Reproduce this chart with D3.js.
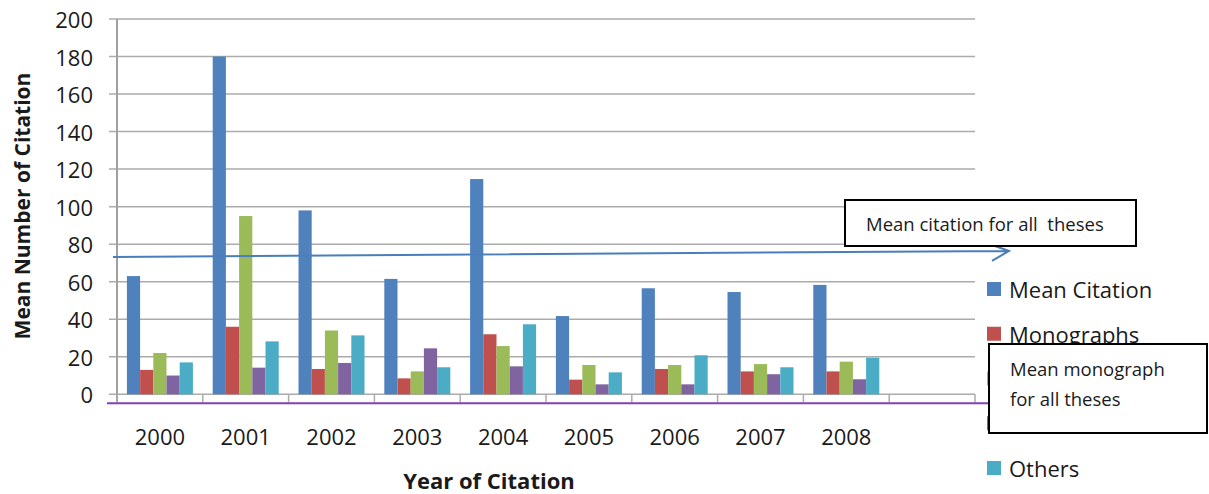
<!DOCTYPE html>
<html>
<head>
<meta charset="utf-8">
<script src="https://cdn.jsdelivr.net/npm/d3@7"></script>
<style>
  body { margin: 0; background: #fff; }
  text { font-family: "Open Sans", sans-serif; fill: #1a1a1a; }
</style>
</head>
<body>
<div id="chart"></div>
<script>
// categories (last slot is the empty category Excel left on the axis)
const years = ["2000", "2001", "2002", "2003", "2004", "2005", "2006", "2007", "2008", ""];
const seriesNames = ["Mean Citation", "Monographs", "Journals", "Theses", "Others"];
const meanCitation = [63, 180, 98, 61.5, 114.7, 41.7, 56.5, 54.5, 58.3];
const monographs = [13, 36, 13.5, 8.5, 32, 7.8, 13.5, 12.2, 12.2];
const journals = [22, 95, 34, 12.2, 25.7, 15.6, 15.6, 16.1, 17.4];
const theses = [10, 14.2, 16.7, 24.5, 14.9, 5.3, 5.3, 10.7, 8];
const others = [17, 28.2, 31.4, 14.4, 37.3, 11.7, 20.8, 14.4, 19.5];
const yTicks = [0, 20, 40, 60, 80, 100, 120, 140, 160, 180, 200];
// hand drawn annotation lines (in data units)
const meanCitationLine = [73.2, 76.4];
const meanMonographLine = -4.8;
// legend entries hidden behind the "Mean monograph" box
const coveredLegend = ["Journals", "Theses"];

const colors = ["#4F81BD", "#C0504D", "#9BBB59", "#8064A2", "#4BACC6"];

window.onload = function () {
    const W = 1209, H = 494;
    const svg = d3.select("#chart").append("svg")
        .attr("width", W).attr("height", H);

    const plot = { left: 117, right: 975, top: 19, bottom: 394.3 };

    const x0 = d3.scaleBand().domain(years).range([plot.left, plot.right]).padding(0);
    const x1 = d3.scaleBand().domain(seriesNames).range([0, x0.bandwidth()])
        .paddingInner(0).paddingOuter(0.75);
    const y = d3.scaleLinear().domain([0, 200]).range([plot.bottom, plot.top]);
    const color = d3.scaleOrdinal().domain(seriesNames).range(colors);

    // gridlines + y ticks
    svg.append("g").selectAll("line").data(yTicks).enter().append("line")
        .attr("x1", plot.left - 8).attr("x2", plot.right)
        .attr("y1", d => y(d)).attr("y2", d => y(d))
        .attr("stroke", "#ababab").attr("stroke-width", 1.5);

    svg.append("g").selectAll("text").data(yTicks).enter().append("text")
        .attr("x", 93).attr("y", d => y(d))
        .attr("text-anchor", "end").attr("dominant-baseline", "central")
        .style("font-size", "22px")
        .text(d => d);

    // bars
    const table = years.slice(0, 9).map((yr, i) => ({
        year: yr,
        values: [meanCitation[i], monographs[i], journals[i], theses[i], others[i]]
    }));
    svg.append("g").selectAll("g").data(table).enter().append("g")
        .attr("transform", d => "translate(" + x0(d.year) + ",0)")
        .selectAll("rect")
        .data(d => d.values.map((v, k) => ({ key: seriesNames[k], value: v })))
        .enter().append("rect")
        .attr("x", d => x1(d.key))
        .attr("y", d => y(d.value))
        .attr("width", x1.bandwidth())
        .attr("height", d => y(0) - y(d.value))
        .attr("fill", d => color(d.key));

    // y axis line
    svg.append("line")
        .attr("x1", plot.left).attr("x2", plot.left)
        .attr("y1", plot.top).attr("y2", plot.bottom + 8)
        .attr("stroke", "#a0a0a0").attr("stroke-width", 2);

    // x tick marks at band boundaries
    const bounds = years.map(d => x0(d)).concat([plot.right]);
    svg.append("g").selectAll("line").data(bounds).enter().append("line")
        .attr("x1", d => d).attr("x2", d => d)
        .attr("y1", plot.bottom).attr("y2", plot.bottom + 8)
        .attr("stroke", "#ababab").attr("stroke-width", 1.5);

    // year labels
    svg.append("g").selectAll("text").data(years).enter().append("text")
        .attr("x", d => x0(d) + x0.bandwidth() / 2)
        .attr("y", 436)
        .attr("text-anchor", "middle").attr("dominant-baseline", "central")
        .style("font-size", "22px")
        .text(d => d);

    // axis titles
    svg.append("text")
        .attr("transform", "translate(22,206) rotate(-90)")
        .attr("text-anchor", "middle").attr("dominant-baseline", "central")
        .style("font-size", "21px").style("font-weight", "bold")
        .text("Mean Number of Citation");
    svg.append("text")
        .attr("x", 489).attr("y", 480)
        .attr("text-anchor", "middle").attr("dominant-baseline", "central")
        .style("font-size", "22px").style("font-weight", "bold")
        .text("Year of Citation");

    // mean citation arrow
    const ax0 = 113, ax1 = 1009;
    const ay0 = y(meanCitationLine[0]), ay1 = y(meanCitationLine[1]);
    svg.append("path")
        .attr("d", "M" + ax0 + "," + ay0 + "L" + ax1 + "," + ay1 +
            "M" + (ax1 - 14) + "," + (ay1 - 5) + "L" + ax1 + "," + ay1 + "L" + (ax1 - 17) + "," + (ay1 + 10))
        .attr("fill", "none").attr("stroke", "#4A7EBB").attr("stroke-width", 2);

    // mean monograph line
    svg.append("line")
        .attr("x1", 107).attr("x2", 990)
        .attr("y1", y(meanMonographLine)).attr("y2", y(meanMonographLine))
        .attr("stroke", "#7F40B8").attr("stroke-width", 2);

    // legend
    const legend = svg.append("g").selectAll("g").data(seriesNames).enter().append("g")
        .attr("transform", (d, i) => "translate(987," + (289 + i * 44.75) + ")");
    legend.append("rect")
        .attr("x", 0).attr("y", -7).attr("width", 14).attr("height", 14)
        .attr("fill", d => color(d));
    legend.filter(d => coveredLegend.indexOf(d) < 0).append("text")
        .attr("x", 22).attr("y", 0).attr("dominant-baseline", "central")
        .style("font-size", "22px")
        .text(d => d);

    // annotation boxes
    svg.append("rect")
        .attr("x", 845).attr("y", 200).attr("width", 291).attr("height", 46)
        .attr("fill", "#fff").attr("stroke", "#000").attr("stroke-width", 2);
    svg.append("text")
        .attr("x", 866).attr("y", 223).attr("dominant-baseline", "central")
        .style("font-size", "18.5px").style("white-space", "pre")
        .text("Mean citation for all  theses");

    svg.append("rect")
        .attr("x", 989).attr("y", 344).attr("width", 218).attr("height", 89)
        .attr("fill", "#fff").attr("stroke", "#000").attr("stroke-width", 2);
    svg.append("text")
        .attr("x", 1010).attr("y", 368).attr("dominant-baseline", "central")
        .style("font-size", "18.5px")
        .text("Mean monograph");
    svg.append("text")
        .attr("x", 1010).attr("y", 398).attr("dominant-baseline", "central")
        .style("font-size", "18.5px")
        .text("for all theses");
};
</script>
</body>
</html>
